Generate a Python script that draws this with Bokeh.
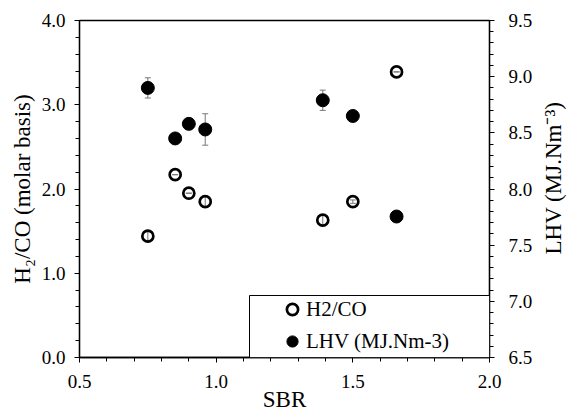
import math
from bokeh.plotting import figure
from bokeh.models import (Range1d, LinearAxis, FixedTicker, PrintfTickFormatter, Label,
                          ColumnDataSource, Whisker, TeeHead, Legend, LegendItem, BoxAnnotation)
from bokeh.embed import file_html
from bokeh.resources import INLINE

# ---- data ----
sbr = [0.75, 0.85, 0.90, 0.96, 1.39, 1.50, 1.66]
h2co = [1.44, 2.17, 1.95, 1.85, 1.63, 1.85, 3.39]
h2co_err = [0.05, 0.0, 0.0, 0.065, 0.065, 0.02, 0.0]
lhv = [8.90, 8.45, 8.58, 8.53, 8.79, 8.65, 7.755]
lhv_err = [0.09, 0.0, 0.0, 0.14, 0.09, 0.0, 0.0]

x_major = [0.5, 1.0, 1.5, 2.0]
x_minor = [round(0.5 + 0.1 * i, 1) for i in range(16)]
yl_major = [0.0, 1.0, 2.0, 3.0, 4.0]
yl_minor = [round(0.2 * i, 1) for i in range(21)]
yr_major = [6.5, 7.0, 7.5, 8.0, 8.5, 9.0, 9.5]
yr_minor = [round(6.5 + 0.1 * i, 1) for i in range(31)]

FONT = "Liberation Serif"

src = ColumnDataSource(dict(
    x=sbr, h=h2co, lhv=lhv,
    h_up=[a + b for a, b in zip(h2co, h2co_err)],
    h_lo=[a - b for a, b in zip(h2co, h2co_err)],
    l_up=[a + b for a, b in zip(lhv, lhv_err)],
    l_lo=[a - b for a, b in zip(lhv, lhv_err)],
))

p = figure(frame_width=410, frame_height=337, output_backend="svg", toolbar_location=None,
           x_range=Range1d(0.5, 2.0), y_range=Range1d(0.0, 4.0),
           min_border_left=79, min_border_right=78, min_border_top=20, min_border_bottom=56)
p.extra_y_ranges = {"lhv": Range1d(6.5, 9.5)}
p.xgrid.visible = False
p.ygrid.visible = False
p.outline_line_color = "black"
p.outline_line_width = 1.3
p.background_fill_color = "white"
p.border_fill_color = "white"

def style_axis(ax, major, minor):
    ax.ticker = FixedTicker(ticks=major, minor_ticks=minor)
    ax.formatter = PrintfTickFormatter(format="%.1f")
    ax.axis_line_color = "black"
    ax.axis_line_width = 1.3
    ax.major_tick_line_color = "black"
    ax.minor_tick_line_color = "black"
    ax.major_tick_in = 0
    ax.major_tick_out = 5
    ax.minor_tick_in = 0
    ax.minor_tick_out = 4
    ax.major_label_text_font = FONT
    ax.major_label_text_font_size = "19px"
    ax.major_label_text_color = "black"
    ax.axis_label_text_font = FONT
    ax.axis_label_text_font_size = "23px"
    ax.axis_label_text_font_style = "normal"
    ax.axis_label_text_color = "black"

xa = p.xaxis[0]
style_axis(xa, x_major, x_minor)
xa.axis_label = "SBR"
xa.major_label_standoff = 12
xa.axis_label_standoff = -4

ya = p.yaxis[0]
style_axis(ya, yl_major, yl_minor)
ya.axis_label = "H\u2082/CO (molar basis)"
ya.major_label_standoff = 9
ya.axis_label_standoff = 4

yr = LinearAxis(y_range_name="lhv")
style_axis(yr, yr_major, yr_minor)
yr.major_label_standoff = 14
p.add_layout(yr, "right")

# right-axis title, reading bottom to top like the reference
rlab = Label(x=2.234, y=2.13, text="LHV (MJ.Nm\u207b\u00b3)", angle=math.pi / 2,
             text_align="center", text_baseline="middle",
             text_font=FONT, text_font_size="23px", text_color="black")
p.add_layout(rlab, "right")

# error bars
grey = "#777777"
wh = Whisker(source=src, base="x", upper="h_up", lower="h_lo", level="underlay",
             line_color=grey, line_width=1,
             upper_head=TeeHead(size=6, line_color=grey, line_width=1),
             lower_head=TeeHead(size=6, line_color=grey, line_width=1))
wl = Whisker(source=src, base="x", upper="l_up", lower="l_lo", level="underlay",
             y_range_name="lhv", line_color=grey, line_width=1,
             upper_head=TeeHead(size=6, line_color=grey, line_width=1),
             lower_head=TeeHead(size=6, line_color=grey, line_width=1))
p.add_layout(wh)
p.add_layout(wl)

r_h = p.scatter("x", "h", source=src, size=11, marker="circle",
                fill_alpha=0, line_color="black", line_width=2.7)
r_l = p.scatter("x", "lhv", source=src, size=13, marker="circle", y_range_name="lhv",
                fill_color="black", line_color="black", line_width=1)

# legend frame (open on the right/bottom sides, where it meets the axes)
box = BoxAnnotation(left=1.122, top=0.736, fill_color="white", fill_alpha=1.0,
                    line_color="black", line_width=1, line_alpha=1.0)
p.add_layout(box)

legend = Legend(items=[LegendItem(label="H2/CO", renderers=[r_h]),
                       LegendItem(label="LHV (MJ.Nm-3)", renderers=[r_l])],
                location=(199, 2), orientation="vertical",
                padding=0, spacing=4, margin=0,
                glyph_width=28, glyph_height=28, label_standoff=0,
                label_height=28,
                label_text_font=FONT, label_text_font_size="21px", label_text_color="black",
                border_line_alpha=0, background_fill_alpha=0)
p.add_layout(legend, "center")

open("out.html", "w").write(file_html(p, INLINE))
